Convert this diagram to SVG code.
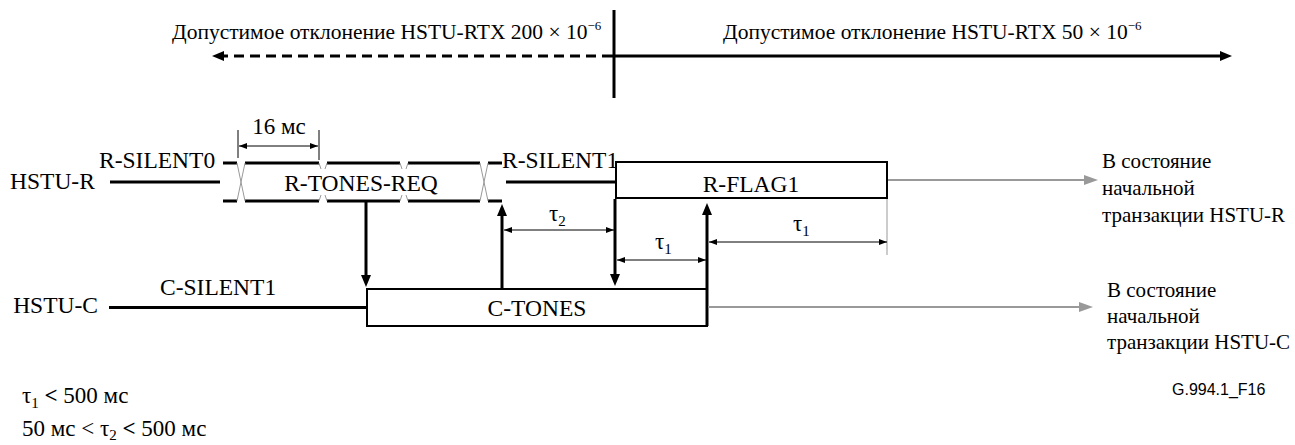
<svg xmlns="http://www.w3.org/2000/svg" width="1295" height="445" viewBox="0 0 1295 445">
<style>
text{font-family:"Liberation Serif","Times New Roman",serif;font-size:23.5px;fill:#000}
.mid{text-anchor:middle}
.end{text-anchor:end}
.title{font-size:21.5px}
.exit{font-size:21px}
.note{font-size:23px}
.sans{font-family:"Liberation Sans",Arial,sans-serif;font-size:16px}
.thick{stroke:#000;stroke-width:3;fill:none}
.box{stroke:#000;stroke-width:2;fill:#fff}
.thin{stroke:#000;stroke-width:1;fill:none}
.gray{stroke:#999;stroke-width:2;fill:none}
.grayThin{stroke:#999;stroke-width:1;fill:none}
.sub{font-size:15px}
.sup{font-size:13px}
</style>
<defs>
<marker id="ah" markerUnits="userSpaceOnUse" markerWidth="12" markerHeight="10" refX="1" refY="5" orient="auto"><path d="M0,0 L12,5 L0,10 z" fill="#000"/></marker>
<marker id="ahs" markerUnits="userSpaceOnUse" markerWidth="8" markerHeight="6" refX="8" refY="3" orient="auto-start-reverse"><path d="M0,0 L8,3 L0,6 z" fill="#000"/></marker>
<marker id="ahg" markerUnits="userSpaceOnUse" markerWidth="14" markerHeight="10" refX="1" refY="5" orient="auto"><path d="M0,0 L14,5 L0,10 z" fill="#999"/></marker>
</defs>

<g id="tolerance">
<line x1="614" y1="10" x2="614" y2="98" class="thick"/>
<line x1="612" y1="56" x2="223" y2="56" class="thick" stroke-width="2.5" stroke-dasharray="10 6" marker-end="url(#ah)"/>
<line x1="612" y1="56" x2="1221" y2="56" class="thick" stroke-width="2.5" marker-end="url(#ah)"/>
<text class="title" x="172" y="39">Допустимое отклонение HSTU-RTX 200 × 10<tspan class="sup" dy="-9">−6</tspan></text>
<text class="title" x="723" y="39">Допустимое отклонение HSTU-RTX 50 × 10<tspan class="sup" dy="-9">−6</tspan></text>
</g>

<g id="hstu-r">
<text x="10" y="189">HSTU-R</text>
<line x1="110" y1="182" x2="220" y2="182" class="thick" stroke-width="3.5"/>
</g>

<g id="r-silent0">
<text x="99" y="168">R-SILENT0</text>
</g>

<g id="r-tones-req">
<path class="thick" d="M223,163 H237 M245,163 H319 M327,163 H400 M408,163 H480 M488,163 H502 M223,201 H237 M245,201 H319 M327,201 H400 M408,201 H480 M488,201 H502"/>
<path class="grayThin" d="M237,163 L245,201 M245,163 L237,201 M480,163 L488,201 M488,163 L480,201 M319,163 L321,169 M327,163 L325,169 M319,201 L321,195 M327,201 L325,195 M400,163 L402,169 M408,163 L406,169 M400,201 L402,195 M408,201 L406,195"/>
<text class="mid" x="361" y="191">R-TONES-REQ</text>
<line x1="238" y1="130" x2="238" y2="158" class="thin"/>
<line x1="319" y1="130" x2="319" y2="160" class="thin"/>
<line x1="239" y1="146" x2="318" y2="146" class="thin" marker-start="url(#ahs)" marker-end="url(#ahs)"/>
<text class="mid note" x="279" y="134">16 мс</text>
</g>

<g id="r-silent1">
<text x="502" y="168" font-size="21.5">R-SILENT1</text>
<line x1="506" y1="182" x2="616" y2="182" class="thick" stroke-width="3.5"/>
</g>

<g id="r-flag1">
<rect x="616" y="162" width="271" height="36" class="box"/>
<text class="mid" x="751" y="192">R-FLAG1</text>
</g>

<g id="hstu-c">
<text class="end" x="98" y="313">HSTU-C</text>
<line x1="109" y1="307.5" x2="367" y2="307.5" class="thick" stroke-width="3.5"/>
</g>

<g id="c-silent1">
<text x="160" y="295">C-SILENT1</text>
</g>

<g id="c-tones">
<rect x="367" y="289" width="340" height="37" class="box"/>
<text class="mid" x="537" y="316">C-TONES</text>
</g>

<g id="exit-r">
<text class="exit" x="1102" y="168">В состояние</text>
<text class="exit" x="1102" y="195">начальной</text>
<text class="exit" x="1102" y="222">транзакции HSTU-R</text>
</g>

<g id="exit-c">
<text class="exit" x="1107" y="297">В состояние</text>
<text class="exit" x="1107" y="323">начальной</text>
<text class="exit" x="1107" y="349">транзакции HSTU-C</text>
</g>

<g id="connectors">
<line x1="366" y1="201" x2="366" y2="276" class="thick" marker-end="url(#ah)"/>
<line x1="502" y1="289" x2="502" y2="215" class="thick" marker-end="url(#ah)"/>
<line x1="615" y1="199" x2="615" y2="275" class="thick" marker-end="url(#ah)"/>
<line x1="707" y1="326" x2="707" y2="214" class="thick" marker-end="url(#ah)"/>
<line x1="888" y1="180" x2="1085" y2="180" class="gray" marker-end="url(#ahg)"/>
<line x1="708" y1="307" x2="1080" y2="307" class="gray" marker-end="url(#ahg)"/>
<line x1="887" y1="199" x2="887" y2="255" class="grayThin"/>
<line x1="504" y1="230" x2="614" y2="230" class="thin" marker-start="url(#ahs)" marker-end="url(#ahs)"/>
<line x1="617" y1="260" x2="706" y2="260" class="thin" marker-start="url(#ahs)" marker-end="url(#ahs)"/>
<line x1="709" y1="242" x2="887" y2="242" class="thin" marker-start="url(#ahs)" marker-end="url(#ahs)"/>
<text class="note" x="549" y="221">τ<tspan class="sub" dy="5">2</tspan></text>
<text class="note" x="655" y="249">τ<tspan class="sub" dy="5">1</tspan></text>
<text class="note" x="793" y="231">τ<tspan class="sub" dy="5">1</tspan></text>
</g>

<g id="notes">
<text class="note" x="22" y="403">τ<tspan class="sub" dy="5">1</tspan><tspan dy="-5" font-weight="bold"> &lt; </tspan>500 мс</text>
<text class="note" x="22" y="436">50 мс &lt; τ<tspan class="sub" dy="4">2</tspan><tspan dy="-4" font-weight="bold"> &lt; </tspan>500 мс</text>
<text class="sans" x="1172" y="395">G.994.1_F16</text>
</g>
</svg>
